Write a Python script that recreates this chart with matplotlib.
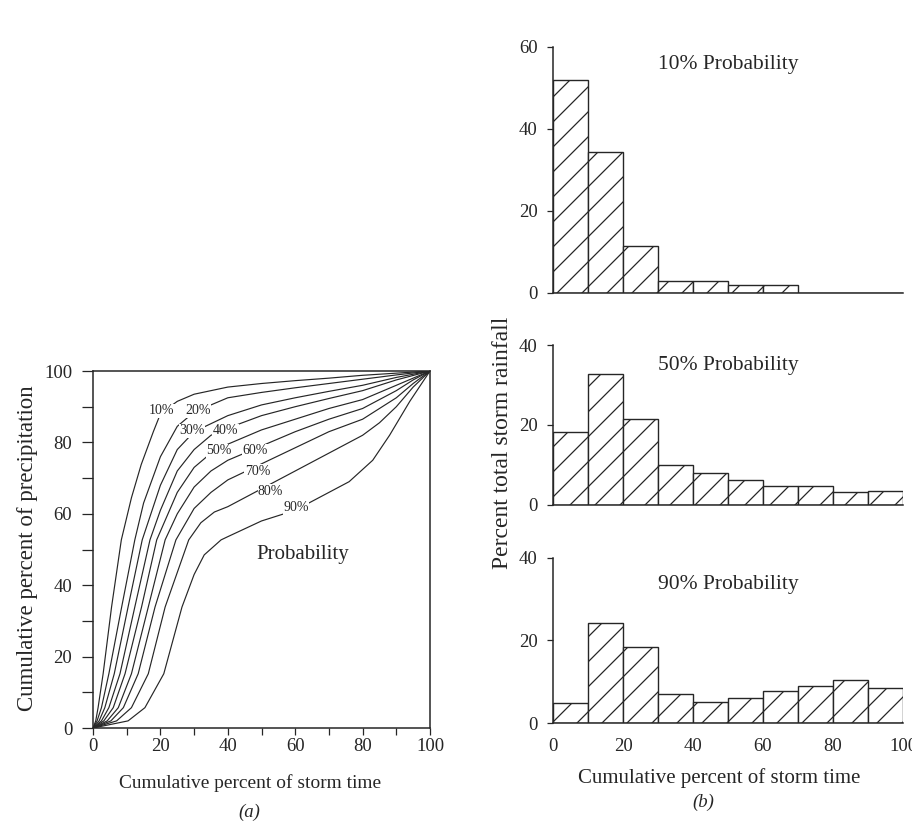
import matplotlib
matplotlib.use("Agg")
import matplotlib.pyplot as plt
import numpy as np

# the figure is saved at 75 dpi so the hatch lines come out as widely spaced
# as in the scan; every size in points is scaled to keep pixel sizes
DPI = 75
K = 100 / DPI


def pt(v):
    return v * K


plt.rcParams['font.family'] = ['Liberation Serif', 'DejaVu Serif']
plt.rcParams['hatch.linewidth'] = pt(0.9)

# (a) cumulative curves: storm time %, precipitation %
curve_labels = ["10%", "20%", "30%", "40%", "50%", "60%", "70%", "80%", "90%"]
curve_time = [
    [0, 0.8, 1.5, 3, 5.5, 8.4, 11.4, 14.3, 17.9, 20, 25, 30, 40, 50, 60, 70, 80, 90, 100],
    [0, 1.2, 2.5, 4.7, 8.5, 12.4, 15, 20, 25, 30, 40, 50, 60, 70, 80, 90, 100],
    [0, 1.8, 3.5, 6.3, 10.4, 14.6, 20, 25, 30, 40, 50, 60, 70, 80, 90, 100],
    [0, 2.5, 4.7, 8, 12.4, 16.9, 20, 25, 30, 35, 40, 50, 60, 70, 80, 90, 100],
    [0, 3.2, 6, 9.5, 14.4, 18.9, 25, 30, 35, 40, 50, 60, 70, 80, 90, 100],
    [0, 4.2, 7.5, 11.4, 16.4, 21.4, 25, 30, 35, 40, 50, 60, 70, 80, 90, 95, 100],
    [0, 5.3, 9, 13.4, 18.4, 24.6, 30, 35, 40, 50, 60, 70, 80, 90, 95, 100],
    [0, 7, 11.4, 16.4, 21.4, 28.4, 32, 36, 40, 50, 60, 70, 80, 85, 90, 95, 100],
    [0, 10.4, 15.4, 21, 26.4, 30, 33, 38, 40, 50, 60, 70, 76, 83, 88, 94, 100],
]
curve_precip = [
    [0, 2, 5.7, 15.2, 33.9, 52.7, 64.5, 73.8, 83, 88, 91.5, 93.5, 95.5, 96.5, 97.3, 98, 98.8, 99.4, 100],
    [0, 2, 5.7, 15.2, 33.9, 52.7, 63, 76, 84.5, 88.5, 92.5, 94, 95.3, 96.5, 97.7, 98.9, 100],
    [0, 2, 5.7, 15.2, 33.9, 52.7, 68, 78, 83, 87.5, 90.5, 92.5, 94.3, 96, 98.2, 100],
    [0, 2, 5.7, 15.2, 33.9, 52.7, 61, 72, 78, 82, 84, 87.5, 90, 92.3, 94.5, 97.5, 100],
    [0, 2, 5.7, 15.2, 33.9, 52.7, 66, 73, 77, 79.5, 83.5, 86.5, 89.5, 92, 96, 100],
    [0, 2, 5.7, 15.2, 33.9, 52.7, 60, 67.5, 72, 75, 79, 83, 86.5, 89.5, 94.5, 97.5, 100],
    [0, 2, 5.7, 15.2, 33.9, 52.7, 61.5, 66, 69.5, 74, 78.5, 83, 86.5, 92.5, 96.5, 100],
    [0, 2, 5.7, 15.2, 33.9, 52.7, 57.5, 60.5, 62, 67, 72, 77, 82, 85.5, 90, 95.5, 100],
    [0, 2, 5.7, 15.2, 33.9, 43, 48.5, 52.7, 53.6, 58, 61, 66, 69, 75, 82, 91.5, 100],
]
label_x = [20.4, 31.1, 29.3, 39.3, 37.3, 48.0, 48.8, 52.7, 60.3]
label_y = [88.9, 88.9, 83.2, 83.2, 77.6, 77.6, 71.9, 66.3, 61.7]

# (b) histograms, percent of storm rainfall in each 10% of storm time
bin_left = [0, 10, 20, 30, 40, 50, 60, 70, 80, 90]
hist_titles = ["10% Probability", "50% Probability", "90% Probability"]
hist_10 = [52, 34.5, 11.5, 3, 3, 2, 2, 0, 0, 0]
hist_50 = [18.2, 32.7, 21.5, 10, 8, 6.2, 4.7, 4.7, 3.2, 3.5]
hist_90 = [4.8, 24.2, 18.4, 7, 5.1, 6, 7.8, 9, 10.4, 8.5]
hist_ymax = [60, 40, 40]
hist_yticks = [[0, 20, 40, 60], [0, 20, 40], [0, 20, 40]]

ink = '#262626'
fig = plt.figure(figsize=(912 / DPI, 823 / DPI), dpi=DPI)

# ---- (a)
ax = fig.add_axes([0.102, 0.1154, 0.3695, 0.4338])
for xs, ys in zip(curve_time, curve_precip):
    ax.plot(xs, ys, color=ink, lw=pt(0.85))
for lab, lx, ly in zip(curve_labels, label_x, label_y):
    ax.text(lx, ly, lab, fontsize=pt(10), ha='center', va='center', color=ink,
            bbox=dict(facecolor='white', edgecolor='none', pad=pt(0.3)))
ax.text(62.2, 48.7, "Probability", fontsize=pt(15), ha='center', va='center', color=ink)
ax.set_xlim(0, 100)
ax.set_ylim(0, 100)
ax.set_xticks(range(0, 101, 20))
ax.set_yticks(range(0, 101, 20))
ax.set_xticks(range(10, 100, 20), minor=True)
ax.set_yticks(range(10, 100, 20), minor=True)
ax.tick_params(which='both', direction='out', width=pt(0.9), color=ink,
               labelsize=pt(13.5), labelcolor=ink)
ax.tick_params(axis='y', which='both', length=pt(7.9), pad=pt(7))
ax.tick_params(axis='x', which='both', length=pt(5), pad=pt(2))
for s in ax.spines.values():
    s.set_color(ink)
    s.set_linewidth(pt(1.1))
fig.text(250 / 912, 1 - 783 / 823, "Cumulative percent of storm time", fontsize=pt(14),
         ha='center', va='center', color=ink)
fig.text(28 / 912, 1 - 548 / 823, "Cumulative percent of precipitation", fontsize=pt(16.5),
         rotation=90, ha='center', va='center', color=ink)
fig.text(249 / 912, 1 - 812 / 823, "(a)", fontsize=pt(13.5), style='italic',
         ha='center', va='center', color=ink)

# ---- (b)
boxes = [[0.6064, 0.6440, 0.3838, 0.2989],
         [0.6064, 0.3864, 0.3838, 0.1944],
         [0.6064, 0.1215, 0.3838, 0.2005]]
title_y = [64.5, 365.5, 584]
for i, (vals, title) in enumerate(zip([hist_10, hist_50, hist_90], hist_titles)):
    hx = fig.add_axes(boxes[i])
    hx.bar(bin_left, vals, width=10, align='edge', facecolor='white',
           edgecolor=ink, linewidth=pt(1.0), hatch='/')
    hx.set_xlim(0, 100)
    hx.set_ylim(0, hist_ymax[i])
    hx.set_yticks(hist_yticks[i])
    for side in ['top', 'right']:
        hx.spines[side].set_visible(False)
    for side in ['left', 'bottom']:
        hx.spines[side].set_color(ink)
        hx.spines[side].set_linewidth(pt(1.1))
    hx.tick_params(axis='y', direction='out', length=pt(4), width=pt(0.9), color=ink,
                   labelsize=pt(13.5), labelcolor=ink, pad=pt(7))
    if i < 2:
        hx.set_xticks([])
    else:
        hx.set_xticks(range(0, 101, 20))
        hx.tick_params(axis='x', length=0, pad=pt(11), labelsize=pt(13.5), labelcolor=ink)
    fig.text(728 / 912, 1 - title_y[i] / 823, title, fontsize=pt(15.5),
             ha='center', va='center', color=ink)

fig.text(503 / 912, 1 - 443 / 823, "Percent total storm rainfall", fontsize=pt(17),
         rotation=90, ha='center', va='center', color=ink)
fig.text(719 / 912, 1 - 778 / 823, "Cumulative percent of storm time", fontsize=pt(15),
         ha='center', va='center', color=ink)
fig.text(703 / 912, 1 - 802 / 823, "(b)", fontsize=pt(13.5), style='italic',
         ha='center', va='center', color=ink)

fig.savefig("out.png", dpi=DPI, facecolor='white')
